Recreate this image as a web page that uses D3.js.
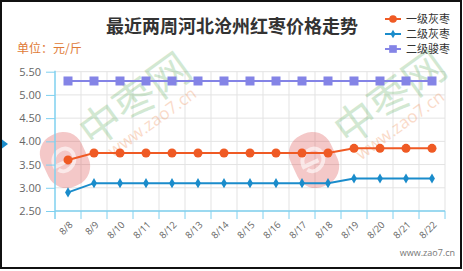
<!DOCTYPE html>
<meta charset="utf-8">
<script src="https://d3js.org/d3.v7.min.js"></script>
<style>
  body { margin: 0; background: #fff; }
  text { font-family: "Open Sans", "Noto Sans CJK SC", sans-serif; }
</style>
<div id="viz"></div>
<script>

var days = ["8/8","8/9","8/10","8/11","8/12","8/13","8/14","8/15","8/16","8/17","8/18","8/19","8/20","8/21","8/22"];
var grade1Grey = [3.6,3.75,3.75,3.75,3.75,3.75,3.75,3.75,3.75,3.75,3.75,3.85,3.85,3.85,3.85];
var grade2Grey = [2.9,3.1,3.1,3.1,3.1,3.1,3.1,3.1,3.1,3.1,3.1,3.2,3.2,3.2,3.2];
var grade2Jun = [5.3,5.3,5.3,5.3,5.3,5.3,5.3,5.3,5.3,5.3,5.3,5.3,5.3,5.3,5.3];
var yTicks = [2.5,3,3.5,4,4.5,5,5.5];
var seriesNames = ["一级灰枣","二级灰枣","二级骏枣"];

var series = [
  {name: seriesNames[0], values: grade1Grey, color: "#ef5a24", shape: "circle"},
  {name: seriesNames[1], values: grade2Grey, color: "#1a8ccb", shape: "diamond"},
  {name: seriesNames[2], values: grade2Jun, color: "#8484e6", shape: "square"}
];

var W = 463, H = 271;
var plotL = 55, plotR = 445, plotT = 71.7, plotB = 211;

var svg = d3.select("#viz").append("svg")
    .attr("width", W).attr("height", H);

svg.append("rect").attr("width", W).attr("height", H).attr("fill", "#fff");

var x = d3.scaleBand().domain(days).range([plotL, plotR]).padding(0);
var y = d3.scaleLinear().domain([2.5, 5.5]).range([plotB, plotT]);

// watermarks
function logo(cx, cy) {
  var g = svg.append("g").attr("transform", "translate(" + cx + "," + cy + ") rotate(-25)");
  g.append("rect").attr("x", -22).attr("y", -28).attr("width", 44).attr("height", 56)
    .attr("rx", 20).attr("fill", "#d94a4a").attr("opacity", 0.3);
  g.append("path").attr("d", "M-12,4 C-14,-14 10,-16 10,-2 C10,10 -6,14 -10,6 M-12,2 L4,2")
    .attr("fill", "none").attr("stroke", "#fff").attr("stroke-width", 4).attr("opacity", 0.6);
}
function mark(cx, cy, cx2, cy2) {
  svg.append("text").attr("transform", "translate(" + cx + "," + cy + ") rotate(-36)")
    .attr("text-anchor", "middle").attr("dy", "0.35em")
    .style("font-family", "Noto Sans CJK SC").style("font-size", "42px")
    .attr("fill", "#5fae5f").attr("opacity", 0.28).text("中枣网");
  svg.append("text").attr("transform", "translate(" + cx2 + "," + cy2 + ") rotate(-36)")
    .attr("text-anchor", "middle").attr("dy", "0.35em")
    .style("font-size", "17px")
    .attr("fill", "#f08a50").attr("opacity", 0.3).text("www.zao7.cn");
}

// grid
svg.append("g").selectAll("line").data(yTicks).join("line")
  .attr("x1", plotL).attr("x2", plotR)
  .attr("y1", d => y(d)).attr("y2", d => y(d))
  .attr("stroke", "#e3e3e3").attr("stroke-width", 1);

var bounds = days.map((d, i) => plotL + (i + 1) * x.step());
svg.append("g").selectAll("line").data(bounds).join("line")
  .attr("x1", d => d).attr("x2", d => d)
  .attr("y1", plotT).attr("y2", plotB)
  .attr("stroke", "#e3e3e3").attr("stroke-width", 1);

logo(65, 160);
logo(314, 160);
mark(135, 100, 152, 122);
mark(390, 98, 400, 125);

// y axis
var axisColor = "#7fd0ef";
var yAxis = svg.append("g").attr("transform", "translate(" + plotL + ",0)")
  .call(d3.axisLeft(y).tickValues(yTicks).tickFormat(d3.format(".2f")).tickSize(9).tickSizeOuter(0).tickPadding(5));
yAxis.select(".domain").remove();
yAxis.selectAll(".tick line").attr("stroke", axisColor);
yAxis.selectAll(".tick text").attr("fill", "#666").style("font-size", "11px");
svg.append("line").attr("x1", plotL).attr("x2", plotL).attr("y1", plotT - 1).attr("y2", plotB + 8)
  .attr("stroke", axisColor).attr("stroke-width", 1.5);

// x axis
svg.append("line").attr("x1", plotL).attr("x2", plotR).attr("y1", plotB).attr("y2", plotB)
  .attr("stroke", axisColor).attr("stroke-width", 1.5);
svg.append("g").selectAll("line").data(bounds).join("line")
  .attr("x1", d => d).attr("x2", d => d)
  .attr("y1", plotB).attr("y2", plotB + 8)
  .attr("stroke", axisColor).attr("stroke-width", 1);
svg.append("g").selectAll("text").data(days).join("text")
  .attr("transform", d => "translate(" + (x(d) + x.bandwidth() / 2 + 3) + "," + (plotB + 12) + ") rotate(-45)")
  .attr("text-anchor", "end").attr("dy", "0.35em")
  .attr("fill", "#666").style("font-size", "9.5px")
  .text(d => d);

// lines and markers
var line = d3.line().x((d, i) => x(days[i]) + x.bandwidth() / 2).y(d => y(d));

function drawMarker(g, shape, color, cx, cy, s) {
  if (shape === "circle") {
    g.append("circle").attr("cx", cx).attr("cy", cy).attr("r", 4.5 * s).attr("fill", color);
  } else if (shape === "diamond") {
    g.append("path").attr("d", d3.symbol(d3.symbolDiamond, 30 * s * s)())
      .attr("transform", "translate(" + cx + "," + cy + ")").attr("fill", color);
  } else {
    g.append("rect").attr("x", cx - 4.5 * s).attr("y", cy - 4.5 * s)
      .attr("width", 9 * s).attr("height", 9 * s).attr("fill", color);
  }
}

series.forEach(function (s) {
  svg.append("path").datum(s.values).attr("d", line)
    .attr("fill", "none").attr("stroke", s.color).attr("stroke-width", 2);
  var g = svg.append("g");
  s.values.forEach(function (v, i) {
    drawMarker(g, s.shape, s.color, x(days[i]) + x.bandwidth() / 2, y(v), 1);
  });
});

// title
svg.append("text").attr("x", 232).attr("y", 33).attr("text-anchor", "middle")
  .style("font-family", "Noto Sans CJK SC").style("font-size", "18px").style("font-weight", "bold")
  .attr("fill", "#333").text("最近两周河北沧州红枣价格走势");

svg.append("text").attr("x", 17).attr("y", 53)
  .style("font-family", "Noto Sans CJK SC").style("font-size", "12px")
  .attr("fill", "#e07a35").text("单位：元/斤");

// legend
series.forEach(function (s, i) {
  var ly = 19 + i * 15;
  var g = svg.append("g");
  g.append("line").attr("x1", 385).attr("x2", 401).attr("y1", ly).attr("y2", ly)
    .attr("stroke", s.color).attr("stroke-width", 2);
  drawMarker(g, s.shape, s.color, 393, ly, 0.85);
  g.append("text").attr("x", 406).attr("y", ly).attr("dy", "0.35em")
    .style("font-family", "Noto Sans CJK SC").style("font-size", "11px")
    .attr("fill", "#333").text(s.name);
});

// source
svg.append("text").attr("x", 455).attr("y", 256).attr("text-anchor", "end")
  .style("font-size", "9px").attr("fill", "#777").text("www.zao7.cn");

// left pointer
svg.append("path").attr("d", "M0,138 L8,144 L0,150 Z").attr("fill", "#1a8ccb");

// frame
svg.append("rect").attr("x", 1).attr("y", 1).attr("width", 460).attr("height", 267)
  .attr("fill", "none").attr("stroke", "#111").attr("stroke-width", 2);

</script>
